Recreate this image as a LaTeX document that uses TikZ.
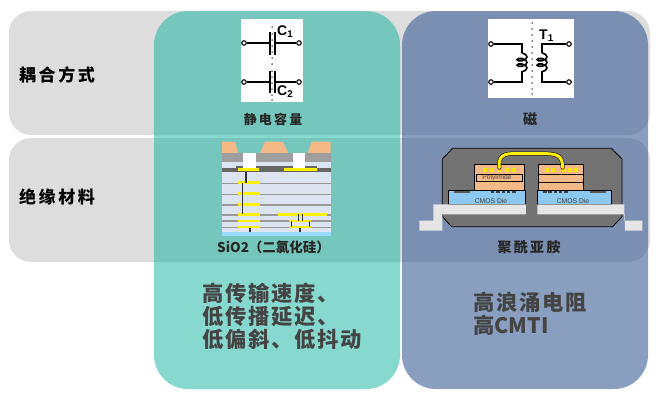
\documentclass[tikz,border=0pt]{standalone}
\usepackage{fontspec}
\setmainfont{Liberation Sans}
\newfontfamily\cjk{Noto Sans CJK SC}
\newfontfamily\cjkwide[LetterSpace=8]{Noto Sans CJK SC}
\newfontfamily\cjkrow[LetterSpace=15]{Noto Sans CJK SC}
\usetikzlibrary{decorations.pathmorphing}
\definecolor{rowgray}{HTML}{DDDDDD}
\definecolor{tealcol}{RGB}{0,174,155}
\definecolor{bluecol}{RGB}{46,82,143}
\definecolor{txtdark}{HTML}{444444}
\definecolor{padorange}{HTML}{F5B887}
\definecolor{dieblue}{HTML}{8CC8F0}
\definecolor{layerblue}{HTML}{DCE4F1}
\tikzset{
  rowbox/.style={draw=none,fill=rowgray,rounded corners=22pt},
  termdot/.style={circle,draw=black,fill=white,line width=1.1pt,inner sep=0pt,minimum size=4.5pt},
  wire/.style={line width=1.3pt,black},
  plate/.style={line width=2pt,black},
  rowlabel/.style={anchor=west,inner sep=0pt,font=\cjkrow\bfseries\fontsize{17}{18}\selectfont},
  caption/.style={inner sep=0pt,font=\cjk\bfseries\fontsize{13}{15}\selectfont,text=black!85},
  partname/.style={anchor=west,inner sep=0pt,font=\bfseries\fontsize{14}{15}\selectfont},
  diename/.style={inner sep=0pt,font=\fontsize{6.8}{7}\selectfont,text=black!75},
  bigtext/.style={anchor=west,inner sep=0pt,align=left,text=txtdark,font=\cjkwide\bfseries\fontsize{21.3}{23}\selectfont},
  via/.style={line width=1.3pt,black!80},
}
\begin{document}
\begin{tikzpicture}[x=1pt,y=-1pt]
    \useasboundingbox (0,0) rectangle (660,400);

    % rows and columns
    \fill[rowbox] (9,11) rectangle (650,135);
    \fill[rowbox] (9,138) rectangle (650,262);
    \fill[tealcol,fill opacity=0.47,rounded corners=34pt] (154,11) rectangle (400,389);
    \fill[bluecol,fill opacity=0.56,rounded corners=34pt] (402,11) rectangle (648,389);

    \node[rowlabel] (coupling) at (19,75) {耦合方式};
    \node[rowlabel] (insulation) at (19,197) {绝缘材料};

    % capacitors
    \fill[white] (241,19) rectangle (303,102);
    \node[termdot] (c1l) at (244,43) {};
    \node[termdot] (c1r) at (299,43) {};
    \node[termdot] (c2l) at (244,82) {};
    \node[termdot] (c2r) at (299,82) {};
    \coordinate (c1a) at (269.5,43);
    \coordinate (c1b) at (274.5,43);
    \coordinate (c2a) at (269.5,82);
    \coordinate (c2b) at (274.5,82);
    \draw[wire] (c1l) -- (c1a);
    \draw[wire] (c1b) -- (c1r);
    \draw[wire] (c2l) -- (c2a);
    \draw[wire] (c2b) -- (c2r);
    \draw[plate] (269.5,32) -- (269.5,55);
    \draw[plate] (274.5,32) -- (274.5,55);
    \draw[plate] (269.5,71) -- (269.5,93);
    \draw[plate] (274.5,71) -- (274.5,93);
    \foreach \y in {27,34,40,46,52,58,64,71,77,83,89,95,100}
      \fill[black] (272,\y) circle (0.75pt);
    \node[partname] (c1) at (277,32) {C\textsubscript{1}};
    \node[partname] (c2) at (277,92) {C\textsubscript{2}};
    \node[caption] (capcap) at (273,119) {静\,电\,容\,量};

    % transformer
    \fill[white] (488,19) rectangle (574,98);
    \node[termdot] (t1a) at (491,44) {};
    \node[termdot] (t1b) at (491,82) {};
    \node[termdot] (t2a) at (569,44) {};
    \node[termdot] (t2b) at (569,82) {};
    \coordinate (la) at (522,53);
    \coordinate (lb) at (522,73);
    \coordinate (ra) at (542,53);
    \coordinate (rb) at (542,73);
    \draw[wire] (t1a) -| (la);
    \draw[wire] (t1b) -| (lb);
    \draw[wire] (t2a) -| (ra);
    \draw[wire] (t2b) -| (rb);
    \draw[line width=1.6pt,decorate,decoration={coil,aspect=0.5,segment length=5.5pt,amplitude=5pt}] (la) -- (lb);
    \draw[line width=1.6pt,decorate,decoration={coil,aspect=0.5,segment length=5.5pt,amplitude=5pt}] (ra) -- (rb);
    \foreach \y in {23,29,35,41,47,53,59,65,71,77,83,89,94}
      \fill[black] (532,\y) circle (0.75pt);
    \node[partname] (t1) at (539,36) {T\textsubscript{1}};
    \node[caption,font=\cjk\bfseries\fontsize{14}{15}\selectfont] (magcap) at (530,119) {磁};

    % SiO2 chip, in 1/3 px units
    \begin{scope}[shift={(210,135)},x=0.3333pt,y=-0.3333pt]
      \fill[padorange] (36,20) -- (75,20) -- (85,55) -- (36,55) -- cycle;
      \fill[padorange] (165,20) -- (218,20) -- (235,55) -- (150,55) -- cycle;
      \fill[padorange] (305,20) -- (362,20) -- (362,55) -- (293,55) -- cycle;
      \fill[black!38] (36,55) rectangle (362,82);
      \fill[layerblue] (36,82) rectangle (362,292);
      \fill[black!60] (36,100) rectangle (362,110);
      \fill[black!60] (78,92) rectangle (320,102);
      \fill[layerblue] (160,84) rectangle (215,94);
      \fill[white] (100,55) rectangle (137,100);
      \fill[white] (248,55) rectangle (285,100);
      \foreach \y in {145,178,210,240,258,278}
        \draw[black!40,line width=1.5pt] (36,\y) -- (362,\y);
      \fill[blue!35!cyan!40] (36,292) rectangle (362,302);
      \foreach \xa/\xb/\y in {85/148/103,222/320/103,85/150/143,85/150/176,85/150/209,85/150/238,205/352/238,85/150/258,238/302/258,85/150/276,238/302/276}
        \draw[yellow,line width=2.4pt] (\xa,\y) -- (\xb,\y);
      \foreach \x/\ya/\yb in {108/110/143,97/145/176,97/178/209,97/210/238,120/278/292,270/278/292,265/238/258,278/238/258,245/258/276,298/258/276}
        \draw[via] (\x,\ya) -- (\x,\yb);
    \end{scope}
    \node[caption,anchor=west,font=\cjk\bfseries\fontsize{13.5}{15}\selectfont] (siocap) at (217,247) {SiO2（二氯化硅）};

    % polyimide package, in 1/3 px units
    \begin{scope}[shift={(410,135)},x=0.3333pt,y=-0.3333pt]
      \draw[fill=black!55,line width=0.8pt] (128,40) -- (604,40) -- (636,72) -- (636,245) -- (608,275) -- (125,275) -- (97,245) -- (97,72) -- cycle;
      \draw[fill=padorange,line width=0.7pt] (192,88) rectangle (343,165);
      \draw[line width=0.7pt] (198,117) -- (338,117) -- (338,140) -- (198,140) -- cycle;
      \draw[fill=padorange,line width=0.7pt] (385,88) rectangle (520,165);
      \draw[line width=0.7pt] (388,118) -- (520,118);
      \draw[line width=0.7pt] (388,141) -- (520,141);
      \foreach \x in {225,245,268,291,313,411,429,462,480,497}
        \fill[yellow!90!orange] (\x-6,99) rectangle (\x+6,112);
      \draw[fill=dieblue,line width=0.7pt] (115,165) rectangle (346,208);
      \draw[fill=dieblue,line width=0.7pt] (382,165) rectangle (604,208);
      \fill[black!65] (132,168) rectangle (180,174);
      \fill[black!65] (541,168) rectangle (587,174);
      \foreach \x in {248,264,280,296,312,405,420,436,452,468}
        \fill[black!75] (\x-5,167) rectangle (\x+5,175);
      \draw[black,line width=4pt,line cap=round] (268,98) .. controls (262,50) and (300,56) .. (330,56) -- (400,56) .. controls (440,56) and (458,60) .. (458,98);
      \draw[yellow,line width=3pt,line cap=round] (268,98) .. controls (262,50) and (300,56) .. (330,56) -- (400,56) .. controls (440,56) and (458,60) .. (458,98);
      \fill[black!10] (70,208) -- (348,208) -- (348,238) -- (97,238) -- (97,287) -- (28,287) -- (28,257) -- (70,257) -- cycle;
      \fill[black!10] (382,208) -- (643,208) -- (643,257) -- (697,257) -- (697,287) -- (645,287) -- (645,238) -- (382,238) -- cycle;
    \end{scope}
    \node[diename] (poly) at (497,178) {Polyimide};
    \node[diename] (dieleft) at (491,201) {CMOS Die};
    \node[diename] (dieright) at (573,201) {CMOS Die};
    \node[caption,font=\cjk\bfseries\fontsize{14}{15}\selectfont] (polycap) at (529,247) {聚\,酰\,亚\,胺};

    % bottom texts
    \node[bigtext] (speed) at (202,316) {高传输速度、\\低传播延迟、\\低偏斜、低抖动};
    \node[bigtext] (robust) at (473,313.5) {高浪涌电阻\\高{\cjk CMTI}};
\end{tikzpicture}
\end{document}
